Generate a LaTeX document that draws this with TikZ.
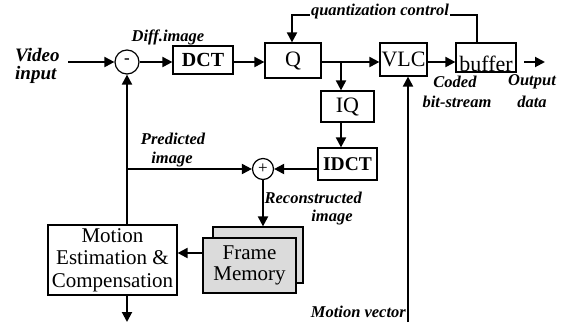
\documentclass[tikz,border=0pt]{standalone}
\usepackage{fontspec}
\setmainfont{Liberation Serif}
\usetikzlibrary{arrows.meta}
\begin{document}
\begin{tikzpicture}[x=1pt,y=-1pt,
  box/.style={draw, line width=1.2pt, inner sep=0pt, fill=white, font=\fontsize{22}{24}\selectfont},
  bbox/.style={box, font=\fontsize{20}{22}\selectfont\bfseries},
  membox/.style={box, fill=black!14, align=center, font=\fontsize{21}{21.5}\selectfont},
  lbl/.style={inner sep=0pt, font=\fontsize{16.5}{18}\selectfont\bfseries\itshape},
  arr/.style={line width=2pt, -{Triangle[length=10pt,width=10pt]}},
  circ/.style={draw, circle, line width=1.2pt, inner sep=0pt, fill=white}]
\useasboundingbox (0,0) rectangle (563,322);
% boxes
\node[bbox, minimum width=60pt, minimum height=28pt] (dct) at (203,60) {DCT};
\node[box, minimum width=56pt, minimum height=35pt] (q) at (293,60.5) {Q};
\node[box, minimum width=47pt, minimum height=33pt] (vlc) at (403.5,59.5) {VLC};
\node[box, minimum width=60pt, minimum height=29pt] (buf) at (486,57.5) {};
\node[inner sep=0pt, font=\fontsize{22}{22}\selectfont, anchor=base] (buftxt) at (486,71.5) {buffer};
\node[box, minimum width=53pt, minimum height=31pt] (iq) at (347.5,106.5) {IQ};
\node[bbox, font=\fontsize{19.5}{22}\selectfont\bfseries, minimum width=59pt, minimum height=32pt] (idct) at (347.5,164) {IDCT};
\node[box, minimum width=129pt, minimum height=70pt, align=center, font=\fontsize{21}{22.5}\selectfont] (me) at (112.5,260) {Motion\\Estimation \&\\Compensation};
\node[membox, minimum width=90pt, minimum height=56pt] (fmb) at (258,255) {};
\node[membox, minimum width=93pt, minimum height=55pt] (fmf) at (249.5,265.5) {Frame\\Memory};
\node[circ, minimum size=24pt] (sub) at (127,62) {};
\node[font=\fontsize{17}{17}\selectfont\bfseries] (subm) at (127,61) {-};
\node[circ, minimum size=21pt] (add) at (263,169) {};
\node[font=\fontsize{17}{17}\selectfont] (addp) at (263,168.5) {+};
% labels
\node[lbl, font=\fontsize{19}{18}\selectfont\bfseries\itshape, align=left, anchor=west] (vid) at (15,66) {Video\\input};
\node[lbl] (diff) at (168,37) {Diff.image};
\node[lbl] (pred1) at (173,139) {Predicted};
\node[lbl] (pred2) at (172,160) {image};
\node[lbl, anchor=east] (rec1) at (362,198) {Reconstructed};
\node[lbl] (rec2) at (332,218) {image};
\node[lbl, anchor=east] (mvl) at (406,312) {Motion vector};
\node[lbl] (cod1) at (455,82) {Coded};
\node[lbl] (cod2) at (457,102) {bit-stream};
\node[lbl] (out1) at (532,82) {Output};
\node[lbl] (out2) at (532,102) {data};
% coordinates
\coordinate (in) at (68,62);
\coordinate (br) at (341,62);
\coordinate (pj) at (127,169);
\coordinate (fa) at (203,253);
\coordinate (mebot) at (127,322);
\coordinate (mv) at (408,322);
\coordinate (o1) at (524,62);
\coordinate (o2) at (545,62);
\coordinate (qc1) at (477,15);
\coordinate (qc2) at (292,15);
% connectors
\draw[arr] (in) -- (sub);
\draw[arr] (sub) -- (sub -| dct.west);
\draw[arr] (dct.east |- sub) -- (q.west |- sub);
\draw[arr] (q.east |- sub) -- (vlc.west |- sub);
\draw[arr] (br) -- (br |- iq.north);
\draw[arr] (br |- iq.south) -- (br |- idct.north);
\draw[arr] (idct.west |- add) -- (add);
\draw[arr] (pj) -- (add);
\draw[arr] (me.north -| sub) -- (sub.south);
\draw[arr] (add) -- (add |- fmb.north);
\draw[arr] (fa) -- (me.east |- fa);
\draw[arr] (me.south -| mebot) -- (mebot);
\draw[arr] (mv) -- (mv |- vlc.south);
\draw[arr] (vlc.east |- sub) -- (buf.west |- sub);
\draw[arr] (o1) -- (o2);
\draw[arr] (buf.north -| qc1) -- (qc1) -- (qc2) -- (qc2 |- q.north);
\node[lbl, fill=white, inner sep=1pt] (qcl) at (380,12) {quantization control};
\end{tikzpicture}
\end{document}
